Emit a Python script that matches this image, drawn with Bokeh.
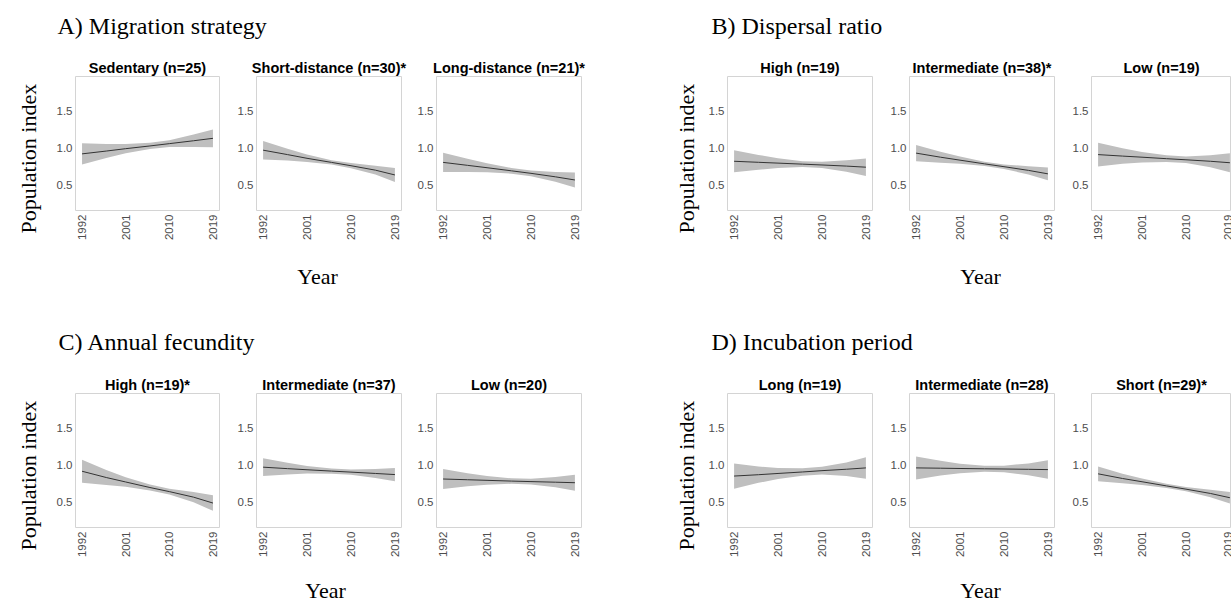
from math import pi
from bokeh.plotting import figure
from bokeh.models import Range1d, FixedTicker, ColumnDataSource, CustomJSTickFormatter, Title
from bokeh.layouts import row, column
from bokeh.embed import file_html
from bokeh.resources import INLINE
from bokeh.core.properties import value

# ---------------- data ----------------
YEARS = [1992, 1997, 2001, 2006, 2010, 2015, 2019]
X_TICKS = [1992, 2001, 2010, 2019]
Y_TICKS = [0.5, 1.0, 1.5]

GROUP_TITLES = ["A) Migration strategy", "B) Dispersal ratio",
                "C) Annual fecundity", "D) Incubation period"]
A_TITLES = ["Sedentary (n=25)", "Short-distance (n=30)*", "Long-distance (n=21)*"]
B_TITLES = ["High (n=19)", "Intermediate (n=38)*", "Low (n=19)"]
C_TITLES = ["High (n=19)*", "Intermediate (n=37)", "Low (n=20)"]
D_TITLES = ["Long (n=19)", "Intermediate (n=28)", "Short (n=29)*"]
Y_LABEL = "Population index"
X_LABEL = "Year"

A1_mean = [0.915, 0.953, 0.985, 1.022, 1.053, 1.092, 1.125]
A1_low  = [0.770, 0.858, 0.923, 0.980, 1.008, 1.007, 1.005]
A1_high = [1.060, 1.048, 1.047, 1.064, 1.098, 1.177, 1.245]
A2_mean = [0.965, 0.905, 0.855, 0.800, 0.755, 0.695, 0.630]
A2_low  = [0.840, 0.825, 0.805, 0.770, 0.720, 0.635, 0.535]
A2_high = [1.090, 0.985, 0.905, 0.830, 0.790, 0.755, 0.725]
A3_mean = [0.800, 0.760, 0.728, 0.686, 0.652, 0.605, 0.562]
A3_low  = [0.670, 0.670, 0.668, 0.648, 0.614, 0.540, 0.462]
A3_high = [0.930, 0.850, 0.788, 0.724, 0.690, 0.670, 0.662]
B1_mean = [0.815, 0.801, 0.790, 0.776, 0.765, 0.750, 0.735]
B1_low  = [0.665, 0.701, 0.725, 0.736, 0.723, 0.672, 0.617]
B1_high = [0.965, 0.901, 0.855, 0.816, 0.807, 0.828, 0.853]
B2_mean = [0.925, 0.870, 0.830, 0.780, 0.742, 0.692, 0.645]
B2_low  = [0.815, 0.795, 0.780, 0.750, 0.712, 0.637, 0.560]
B2_high = [1.035, 0.945, 0.880, 0.810, 0.772, 0.747, 0.730]
B3_mean = [0.905, 0.885, 0.870, 0.850, 0.835, 0.815, 0.795]
B3_low  = [0.745, 0.780, 0.800, 0.805, 0.790, 0.733, 0.667]
B3_high = [1.065, 0.990, 0.940, 0.895, 0.880, 0.897, 0.923]
C1_mean = [0.910, 0.825, 0.765, 0.690, 0.635, 0.560, 0.480]
C1_low  = [0.755, 0.725, 0.700, 0.650, 0.595, 0.490, 0.375]
C1_high = [1.065, 0.925, 0.830, 0.730, 0.675, 0.630, 0.585]
C2_mean = [0.965, 0.945, 0.930, 0.912, 0.898, 0.880, 0.865]
C2_low  = [0.845, 0.865, 0.880, 0.877, 0.863, 0.820, 0.775]
C2_high = [1.085, 1.025, 0.980, 0.947, 0.933, 0.940, 0.955]
C3_mean = [0.805, 0.795, 0.787, 0.777, 0.770, 0.762, 0.755]
C3_low  = [0.670, 0.707, 0.729, 0.740, 0.732, 0.692, 0.647]
C3_high = [0.940, 0.883, 0.845, 0.814, 0.808, 0.832, 0.863]
D1_mean = [0.845, 0.863, 0.880, 0.900, 0.918, 0.937, 0.955]
D1_low  = [0.675, 0.753, 0.805, 0.850, 0.866, 0.847, 0.810]
D1_high = [1.015, 0.973, 0.955, 0.950, 0.970, 1.027, 1.100]
D2_mean = [0.955, 0.951, 0.947, 0.943, 0.940, 0.936, 0.932]
D2_low  = [0.800, 0.851, 0.882, 0.903, 0.895, 0.856, 0.807]
D2_high = [1.110, 1.051, 1.012, 0.983, 0.985, 1.016, 1.057]
D3_mean = [0.875, 0.812, 0.768, 0.712, 0.668, 0.610, 0.552]
D3_low  = [0.775, 0.747, 0.723, 0.682, 0.638, 0.560, 0.475]
D3_high = [0.975, 0.877, 0.813, 0.742, 0.698, 0.660, 0.629]

# ---------------- layout constants ----------------
X0, X1 = 1990.65, 2020.35
Y0, Y1 = 0.15, 1.96
FW, FH = 145, 134
BT, BB = 26, 35
SERIF = "Liberation Serif"
SANS = "Liberation Sans"
BAND = "#bfbfbf"
LINE = "#333333"
BORDER = "#d4d4d4"
TICK_COLOR = "#4d4d4d"
W = 1231
BASE_FIX = 8.5   # text glyph baseline correction (px)

# panel segments: (width, border_left, border_right, frame_width)
SEGMENTS = [(231, 74, 12, 145), (180, 25, 10, 145), (219, 25, 49, 145),
            (254, 97, 12, 145), (182, 25, 12, 145), (165, 25, 0, 140)]
YLABEL_STANDOFF = {0: 26, 3: 14}


def subplot(seg, title, mean, low, high):
    w, bl, br, fw = SEGMENTS[seg]
    x_end = X0 + fw / FW * (X1 - X0)
    p = figure(width=w, height=BT + FH + BB,
               x_range=Range1d(X0, x_end), y_range=Range1d(Y0, Y1),
               output_backend="svg", toolbar_location=None,
               min_border_left=bl, min_border_right=br,
               min_border_top=BT, min_border_bottom=BB)
    p.grid.visible = False
    p.outline_line_color = BORDER
    p.background_fill_color = "white"
    p.border_fill_color = "white"
    src = ColumnDataSource(dict(x=YEARS, m=mean, lo=low, hi=high))
    p.varea(x="x", y1="lo", y2="hi", source=src, fill_color=BAND, fill_alpha=1)
    p.line(x="x", y="m", source=src, line_color=LINE, line_width=1)
    xa = p.xaxis[0]
    ya = p.yaxis[0]
    xa.ticker = FixedTicker(ticks=X_TICKS)
    ya.ticker = FixedTicker(ticks=Y_TICKS)
    for ax in (xa, ya):
        ax.axis_line_color = None
        ax.major_tick_line_color = None
        ax.minor_tick_line_color = None
        ax.major_tick_in = 0
        ax.major_tick_out = 0
        ax.major_label_text_font = SANS
        ax.major_label_text_font_size = "11.5px"
        ax.major_label_text_color = TICK_COLOR
    xa.major_label_orientation = pi / 2
    xa.major_label_standoff = 4
    ya.major_label_standoff = 3
    ya.formatter = CustomJSTickFormatter(code="return tick.toFixed(1);")
    p.title.text = title
    p.title.align = "center"
    p.title.text_font = SANS
    p.title.text_font_style = "bold"
    p.title.text_font_size = "14.5px"
    p.title.text_color = "black"
    p.title.standoff = 2
    if seg in YLABEL_STANDOFF:
        # "Population index", starting 23 px below the frame bottom
        p.add_layout(Title(text=Y_LABEL, align="left", offset=-23,
                           text_font=SERIF, text_font_size="22px",
                           text_font_style="normal", text_color="black",
                           standoff=YLABEL_STANDOFF[seg]), "left")
    return p


def text_box(width, height, xs, ys, texts, sizes, aligns):
    p = figure(width=width, height=height, x_range=Range1d(0, width),
               y_range=Range1d(height, 0), output_backend="svg",
               toolbar_location=None, min_border=0,
               min_border_left=0, min_border_right=0,
               min_border_top=0, min_border_bottom=0,
               x_axis_location=None, y_axis_location=None)
    p.title.visible = False
    p.grid.visible = False
    p.outline_line_color = None
    p.background_fill_color = "white"
    p.border_fill_color = "white"
    src = ColumnDataSource(dict(x=xs, y=[v - BASE_FIX for v in ys], t=texts,
                                s=sizes, a=aligns))
    p.text(x="x", y="y", text="t", source=src, text_font=value(SERIF),
           text_font_size="s", text_color="black", text_align="a",
           text_baseline="alphabetic")
    return p


def data_list(prefix):
    g = globals()
    return [(g[f"{prefix}{i}_mean"], g[f"{prefix}{i}_low"], g[f"{prefix}{i}_high"]) for i in (1, 2, 3)]


def panel_row(titles, data):
    return row(*[subplot(i, titles[i], *data[i]) for i in range(6)], spacing=0)


h = BT + FH + BB
band1 = text_box(W, 50, [57, 711], [33.5, 33.5], GROUP_TITLES[:2],
                 ["24px", "24px"], ["left", "left"])
band2 = panel_row(A_TITLES + B_TITLES, data_list("A") + data_list("B"))
b3 = 50 + h
band3 = text_box(W, 367 - b3, [317, 980, 58, 711],
                 [284 - b3, 284 - b3, 350 - b3, 350 - b3],
                 [X_LABEL, X_LABEL] + GROUP_TITLES[2:],
                 ["22px", "22px", "24px", "24px"],
                 ["center", "center", "left", "left"])
band4 = panel_row(C_TITLES + D_TITLES, data_list("C") + data_list("D"))
b5 = 367 + h
band5 = text_box(W, 603 - b5, [325, 980], [598 - b5] * 2, [X_LABEL, X_LABEL],
                 ["22px", "22px"], ["center", "center"])

page = column(band1, band2, band3, band4, band5, spacing=0)

with open("out.html", "w") as f:
    f.write(file_html(page, INLINE))
